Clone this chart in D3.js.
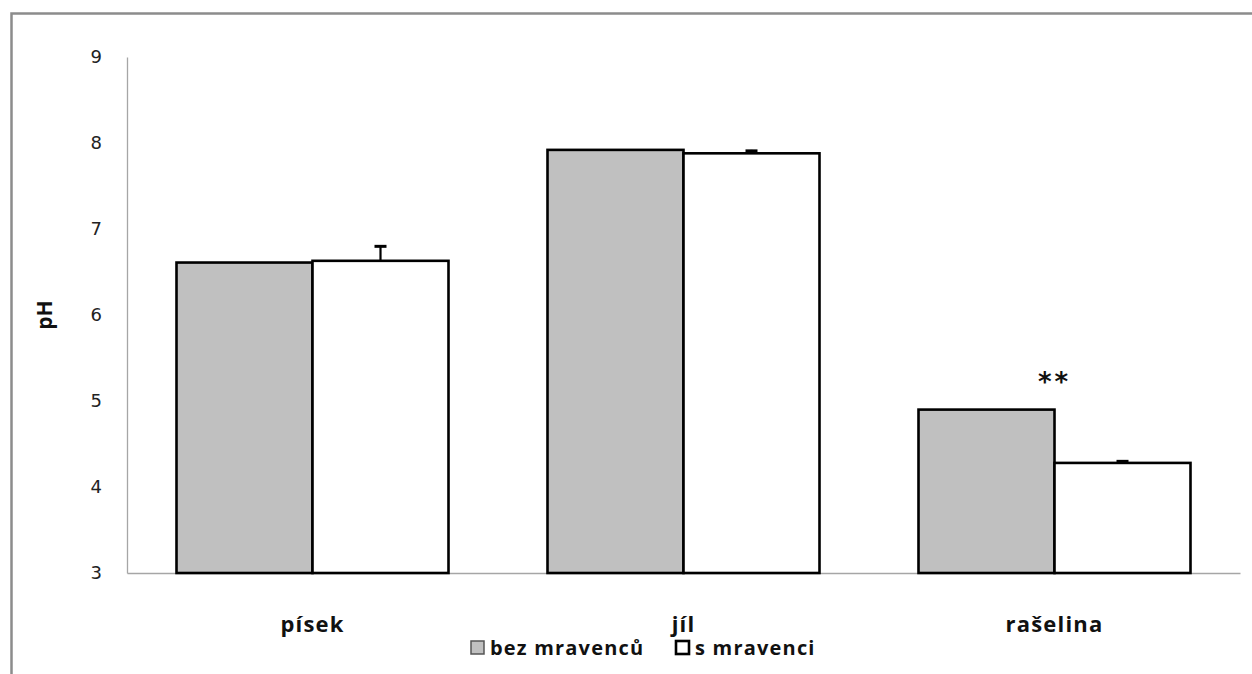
<!DOCTYPE html>
<html>
<head>
<meta charset="utf-8">
<script src="https://cdn.jsdelivr.net/npm/d3@7"></script>
<style>
  body { margin: 0; background: #fff; }
  svg { display: block; }
</style>
</head>
<body>
<svg id="chart" width="1252" height="674"></svg>
<script>
// Soil types and the two treatments
const categories = ["písek", "jíl", "rašelina"];
const seriesNames = ["bez mravenců", "s mravenci"];
// Mean pH per soil type
const withoutAnts = [6.61, 7.92, 4.90];
const withAnts = [6.63, 7.88, 4.28];
// Error bar half-heights for the "s mravenci" series
const withAntsErr = [0.18, 0.04, 0.03];
// Significance markers above the groups
const significance = ["", "", "**"];
const yTicks = [3, 4, 5, 6, 7, 8, 9];

const svg = d3.select("#chart");
const W = 1252, H = 674;
const m = { left: 127, right: 12, top: 57, bottom: 101 };
const plotW = W - m.left - m.right;
const plotH = H - m.top - m.bottom;

const rows = categories.map((c, i) => ({
  cat: c,
  values: [
    { s: 0, v: withoutAnts[i], err: 0 },
    { s: 1, v: withAnts[i], err: withAntsErr[i] }
  ],
  sig: significance[i]
}));

const x = d3.scaleBand().domain(categories).range([m.left, m.left + plotW]).padding(0);
const xs = d3.scaleBand().domain([0, 1]).range([0, x.bandwidth()]).paddingInner(0).paddingOuter(0.364);
const y = d3.scaleLinear().domain([3, 9]).range([m.top + plotH, m.top]);

const textFont = "'Open Sans', Lato, sans-serif";

// outer frame (top and left edges visible)
svg.append("path")
  .attr("d", `M11.5,${H} V13.5 H${W}`)
  .attr("fill", "none").attr("stroke", "#8c8c8c").attr("stroke-width", 2.5);

// y axis
const yAxis = svg.append("g").attr("transform", `translate(${m.left},0)`)
  .call(d3.axisLeft(y).tickValues(yTicks).tickSize(0).tickPadding(25).tickFormat(d3.format("d")));
yAxis.select(".domain").attr("stroke", "#a6a6a6").attr("stroke-width", 1.3);
yAxis.selectAll("text")
  .attr("font-family", "DejaVu Sans, Verdana, sans-serif")
  .attr("font-size", 18).attr("fill", "#222");

// x axis
const xAxis = svg.append("g").attr("transform", `translate(0,${y(3)})`)
  .call(d3.axisBottom(x).tickSize(0).tickPadding(43));
xAxis.select(".domain").attr("stroke", "#a6a6a6").attr("stroke-width", 1.3);
xAxis.selectAll("text")
  .attr("font-family", textFont)
  .attr("font-weight", "bold").attr("font-size", 22)
  .attr("letter-spacing", 1.2).attr("fill", "#111");

// y axis title
svg.append("text")
  .attr("transform", `translate(52,${(y(3) + y(9)) / 2}) rotate(-90)`)
  .attr("text-anchor", "middle")
  .attr("font-family", textFont)
  .attr("font-weight", "bold").attr("font-size", 21).attr("fill", "#111")
  .text("pH");

const fills = ["#c0c0c0", "#ffffff"];

const groups = svg.append("g").selectAll("g").data(rows).join("g")
  .attr("transform", d => `translate(${x(d.cat)},0)`);

// bars
groups.selectAll("rect").data(d => d.values).join("rect")
  .attr("x", d => xs(d.s))
  .attr("width", xs.bandwidth())
  .attr("y", d => y(d.v))
  .attr("height", d => y(3) - y(d.v))
  .attr("fill", d => fills[d.s])
  .attr("stroke", "#000").attr("stroke-width", 2.6);

// error bars
const eb = groups.selectAll("g.err").data(d => d.values.filter(v => v.err > 0)).join("g").attr("class", "err");
eb.append("line")
  .attr("x1", d => xs(d.s) + xs.bandwidth() / 2).attr("x2", d => xs(d.s) + xs.bandwidth() / 2)
  .attr("y1", d => y(d.v)).attr("y2", d => y(d.v + d.err))
  .attr("stroke", "#000").attr("stroke-width", 2.2);
eb.append("line")
  .attr("x1", d => xs(d.s) + xs.bandwidth() / 2 - 6).attr("x2", d => xs(d.s) + xs.bandwidth() / 2 + 6)
  .attr("y1", d => y(d.v + d.err) + 1).attr("y2", d => y(d.v + d.err) + 1)
  .attr("stroke", "#000").attr("stroke-width", 3);

// significance stars
groups.filter(d => d.sig).append("text")
  .attr("x", x.bandwidth() / 2)
  .attr("y", d => y(d3.max(d.values, v => v.v + v.err)) - 19)
  .attr("text-anchor", "middle")
  .attr("font-family", "DejaVu Sans, sans-serif")
  .attr("font-weight", "bold")
  .attr("font-size", 26).attr("letter-spacing", 3).attr("fill", "#111")
  .text(d => d.sig);

// legend
const legendX = [470, 675];
const legend = svg.append("g").selectAll("g").data(seriesNames).join("g")
  .attr("transform", (d, i) => `translate(${legendX[i]},640)`);
legend.append("rect")
  .attr("x", 1).attr("y", 1).attr("width", 13).attr("height", 13)
  .attr("fill", (d, i) => fills[i])
  .attr("stroke", (d, i) => i === 0 ? "#555" : "#000")
  .attr("stroke-width", (d, i) => i === 0 ? 1.5 : 2.6);
legend.append("text")
  .attr("x", 20).attr("y", 15)
  .attr("font-family", textFont)
  .attr("font-weight", "bold").attr("font-size", 20)
  .attr("letter-spacing", 1.2).attr("fill", "#111")
  .text(d => d);
</script>
</body>
</html>
